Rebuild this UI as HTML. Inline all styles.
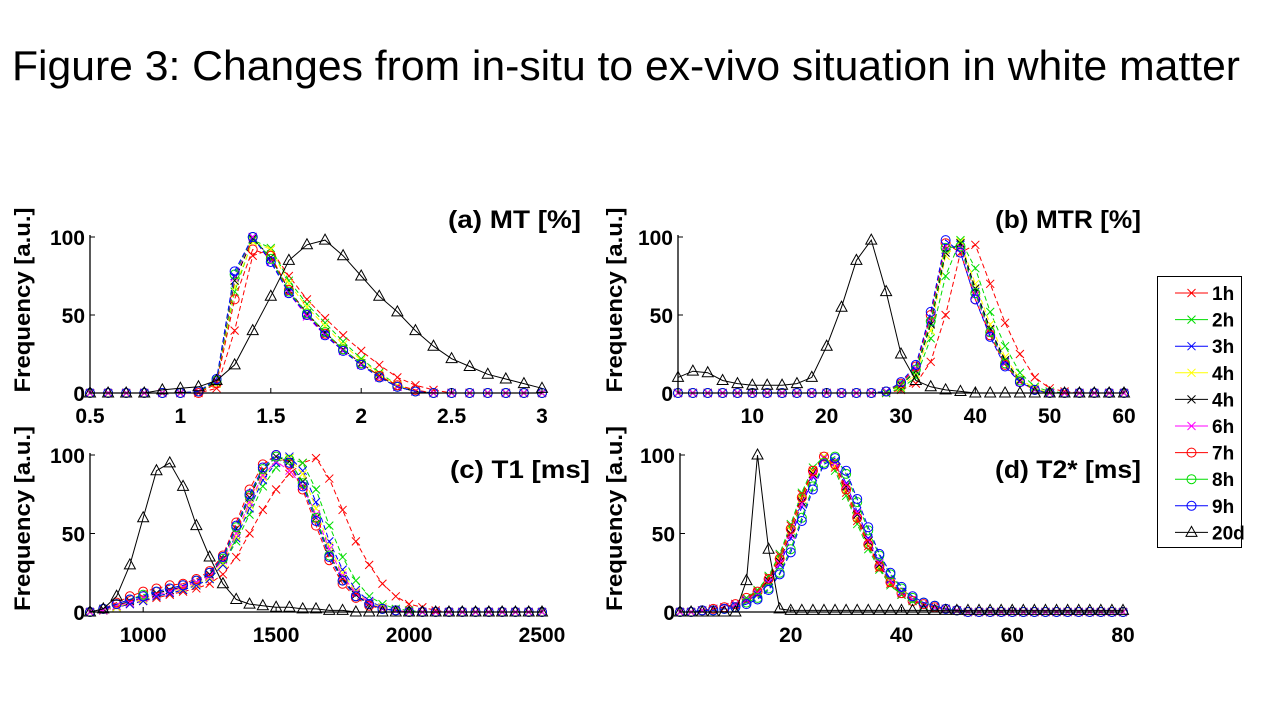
<!DOCTYPE html>
<html><head><meta charset="utf-8"><style>
body{margin:0;background:#fff;width:1280px;height:720px;overflow:hidden;font-family:"Liberation Sans",Arial,sans-serif}
svg text{font-family:"Liberation Sans",Arial,sans-serif}
</style></head><body>
<svg id="fig" width="1280" height="720" viewBox="0 0 1280 720" xmlns="http://www.w3.org/2000/svg">
<text x="12" y="80" font-size="42" textLength="1228" lengthAdjust="spacingAndGlyphs">Figure 3: Changes from in-situ to ex-vivo situation in white matter</text>
<g id="plots"></g>
<g id="legend"></g>
</svg>
<script>
// ---- data ----
const seriesNames=["1h","2h","3h","4h","4h","6h","7h","8h","9h","20d"];
const seriesColors=["#ff0000","#00dd00","#0000ff","#ffff00","#000000","#ff00ff","#ff0000","#00dd00","#0000ff","#000000"];
const seriesMarkers=["x","x","x","x","x","x","o","o","o","t"];

const aX=[0.5,0.6,0.7,0.8,0.9,1.0,1.1,1.2,1.3,1.4,1.5,1.6,1.7,1.8,1.9,2.0,2.1,2.2,2.3,2.4,2.5,2.6,2.7,2.8,2.9,3.0];
const aVals=[
[0,0,0,0,0,0,0,3,40,88,92,75,60,48,37,27,18,10,5,2,0,0,0,0,0,0],
[0,0,0,0,0,0,1,6,65,98,93,72,57,45,33,22,13,5,1,0,0,0,0,0,0,0],
[0,0,0,0,0,0,1,8,75,100,85,65,50,38,27,18,10,4,1,0,0,0,0,0,0,0],
[0,0,0,0,0,0,1,6,68,97,92,70,55,43,31,21,12,5,1,0,0,0,0,0,0,0],
[0,0,0,0,0,0,1,7,72,99,87,66,51,39,28,19,11,4,1,0,0,0,0,0,0,0],
[0,0,0,0,0,0,1,8,74,100,84,64,49,37,27,18,10,4,1,0,0,0,0,0,0,0],
[0,0,0,0,0,0,0,6,60,92,88,66,50,38,28,19,11,5,2,0,0,0,0,0,0,0],
[0,0,0,0,0,0,1,8,76,100,86,65,51,39,28,19,10,4,1,0,0,0,0,0,0,0],
[0,0,0,0,0,0,1,9,78,100,84,64,50,37,27,18,10,4,1,0,0,0,0,0,0,0],
[0,0,0,0,2,3,4,8,18,40,62,85,95,98,88,75,62,52,40,30,22,17,12,9,6,3]];
const aTicks=[0.5,1,1.5,2,2.5,3];
const aTickLabels=["0.5","1","1.5","2","2.5","3"];

const bX=[0,2,4,6,8,10,12,14,16,18,20,22,24,26,28,30,32,34,36,38,40,42,44,46,48,50,52,54,56,58,60];
const bVals=[
[0,0,0,0,0,0,0,0,0,0,0,0,0,0,0,2,6,20,50,90,95,70,45,25,10,3,1,0,0,0,0],
[0,0,0,0,0,0,0,0,0,0,0,0,0,0,0,3,10,35,75,98,80,52,30,13,4,1,0,0,0,0,0],
[0,0,0,0,0,0,0,0,0,0,0,0,0,0,1,5,15,45,92,95,65,40,20,8,2,0,0,0,0,0,0],
[0,0,0,0,0,0,0,0,0,0,0,0,0,0,1,4,12,40,88,97,70,44,23,9,3,0,0,0,0,0,0],
[0,0,0,0,0,0,0,0,0,0,0,0,0,0,1,5,14,44,90,96,67,41,21,8,2,0,0,0,0,0,0],
[0,0,0,0,0,0,0,0,0,0,0,0,0,0,1,6,16,48,94,93,63,38,19,7,2,0,0,0,0,0,0],
[0,0,0,0,0,0,0,0,0,0,0,0,0,0,1,6,17,50,96,90,60,37,18,7,2,0,0,0,0,0,0],
[0,0,0,0,0,0,0,0,0,0,0,0,0,0,1,5,15,46,93,94,64,39,19,8,2,0,0,0,0,0,0],
[0,0,0,0,0,0,0,0,0,0,0,0,0,0,1,7,18,52,98,90,60,36,17,7,2,0,0,0,0,0,0],
[10,14,13,8,6,5,5,5,6,10,30,55,85,98,65,25,8,4,2,1,0,0,0,0,0,0,0,0,0,0,0]];
const bTicks=[10,20,30,40,50,60];
const bTickLabels=["10","20","30","40","50","60"];

const cX=[800,850,900,950,1000,1050,1100,1150,1200,1250,1300,1350,1400,1450,1500,1550,1600,1650,1700,1750,1800,1850,1900,1950,2000,2050,2100,2150,2200,2250,2300,2350,2400,2450,2500];
const cVals=[
[0,1,3,5,7,9,11,13,15,18,24,35,50,65,78,88,95,98,85,65,45,30,18,10,5,3,1,0,0,0,0,0,0,0,0],
[0,1,3,6,8,10,12,14,17,21,30,45,62,80,92,98,95,78,55,35,20,10,5,2,1,0,0,0,0,0,0,0,0,0,0],
[0,1,3,5,7,10,12,14,17,21,30,47,66,84,95,99,90,70,45,27,14,7,3,1,0,0,0,0,0,0,0,0,0,0,0],
[0,1,3,6,8,11,13,15,18,22,31,48,68,86,96,98,88,66,42,25,13,6,3,1,0,0,0,0,0,0,0,0,0,0,0],
[0,2,4,7,9,12,14,16,19,24,34,53,73,90,99,96,83,60,37,21,11,5,2,1,0,0,0,0,0,0,0,0,0,0,0],
[0,1,4,6,9,11,13,16,19,23,33,50,70,87,96,90,80,62,40,23,12,6,2,1,0,0,0,0,0,0,0,0,0,0,0],
[0,2,6,10,13,15,17,18,21,26,36,57,78,94,100,94,78,55,33,18,9,4,2,1,0,0,0,0,0,0,0,0,0,0,0],
[0,2,5,8,11,13,15,17,20,25,34,54,74,91,99,97,82,60,36,20,10,5,2,1,0,0,0,0,0,0,0,0,0,0,0],
[0,2,5,8,10,13,15,17,20,25,35,55,75,92,100,95,80,58,35,20,10,5,2,1,0,0,0,0,0,0,0,0,0,0,0],
[0,2,10,30,60,90,95,80,55,35,18,8,5,4,3,3,2,2,1,1,0,0,0,0,0,0,0,0,0,0,0,0,0,0,0]];
const cTicks=[1000,1500,2000,2500];
const cTickLabels=["1000","1500","2000","2500"];

const dX=[0,2,4,6,8,10,12,14,16,18,20,22,24,26,28,30,32,34,36,38,40,42,44,46,48,50,52,54,56,58,60,62,64,66,68,70,72,74,76,78,80];
const dVals=[
[0,0,1,2,3,5,8,13,22,36,55,75,90,99,92,76,58,42,28,18,11,7,4,3,2,1,0,0,0,0,0,0,0,0,0,0,0,0,0,0,0],
[0,0,1,2,3,5,9,14,23,37,56,76,92,99,90,74,56,40,27,17,11,7,4,3,2,1,0,0,0,0,0,0,0,0,0,0,0,0,0,0,0],
[0,0,1,2,3,4,7,11,18,30,47,67,86,98,96,82,64,47,32,21,13,8,5,3,2,1,0,0,0,0,0,0,0,0,0,0,0,0,0,0,0],
[0,0,1,2,3,5,8,12,20,33,52,72,89,99,93,78,60,44,29,19,12,8,5,3,2,1,0,0,0,0,0,0,0,0,0,0,0,0,0,0,0],
[0,0,1,2,3,5,8,12,20,32,50,70,88,98,95,80,62,45,30,20,12,8,5,3,2,1,0,0,0,0,0,0,0,0,0,0,0,0,0,0,0],
[0,0,1,2,3,5,8,12,19,31,49,69,87,98,95,81,63,46,31,20,12,8,5,3,2,1,0,0,0,0,0,0,0,0,0,0,0,0,0,0,0],
[0,0,1,2,3,5,9,13,21,34,53,73,90,99,94,78,60,43,29,19,12,7,5,3,2,1,0,0,0,0,0,0,0,0,0,0,0,0,0,0,0],
[0,0,1,1,2,3,6,9,15,25,40,60,80,95,99,88,70,52,36,24,15,9,6,4,2,1,0,0,0,0,0,0,0,0,0,0,0,0,0,0,0],
[0,0,1,1,2,3,5,8,14,24,38,58,78,94,98,90,72,54,37,25,16,10,6,4,2,1,0,0,0,0,0,0,0,0,0,0,0,0,0,0,0],
[0,0,0,0,0,0,20,100,40,2,1,1,1,1,1,1,1,1,1,1,1,1,1,1,1,1,1,1,1,1,1,1,1,1,1,1,1,1,1,1,1]];
const dTicks=[20,40,60,80];
const dTickLabels=["20","40","60","80"];

const yTicks=[0,50,100];

// ---- drawing ----
const NS="http://www.w3.org/2000/svg";
const plots=document.getElementById('plots');
function mk(tag,attrs,parent){const e=document.createElementNS(NS,tag);for(const k in attrs)e.setAttribute(k,attrs[k]);parent.appendChild(e);return e;}
function marker(g,type,x,y,c){
  if(type==="x"){
    const p=mk('path',{d:`M${x-4},${y-4}L${x+4},${y+4}M${x-4},${y+4}L${x+4},${y-4}`,stroke:c,'stroke-width':1,fill:'none'},g);
    
    
  }else if(type==="o"){
    const p=mk('circle',{cx:x,cy:y,r:4.5,stroke:c,'stroke-width':1,fill:'none'},g);
    
    
  }else{
    const p=mk('path',{d:`M${x},${y-6}L${x+5.5},${y+4}L${x-5.5},${y+4}Z`,stroke:c,'stroke-width':1,fill:'none'},g);
    
    
  }
}
function panel(cfg){
  const g=mk('g',{},plots);
  
  
  const sx=v=>cfg.px0+(v-cfg.x0)/(cfg.x1-cfg.x0)*(cfg.px1-cfg.px0);
  const sy=v=>cfg.py0+(v/100)*(cfg.py100-cfg.py0);
  cfg.vals.forEach((vals,si)=>{
    const sg=mk('g',{},g);
    
    
    const pts=vals.map((v,i)=>sx(cfg.xs[i]).toFixed(1)+','+sy(v).toFixed(1)).join(' ');
    const pl=mk('polyline',{points:pts,fill:'none',stroke:seriesColors[si],'stroke-width':1,'stroke-dasharray':si<9?'5,3':'none'},sg);
    
    
    vals.forEach((v,i)=>marker(sg,seriesMarkers[si],sx(cfg.xs[i]),sy(v),seriesColors[si]));
  });
  const ax=mk('path',{d:`M${cfg.px0},${cfg.py100-2}V${cfg.py0}H${cfg.px1}`,stroke:'#000','stroke-width':1.3,fill:'none'},g);
  
  
  yTicks.forEach(t=>{
    const y=sy(t);
    mk('line',{x1:cfg.px0,x2:cfg.px0+5,y1:y,y2:y,stroke:'#000'},g);
    const tx=mk('text',{x:cfg.px0-5,y:y+8,'text-anchor':'end','font-size':21,'font-weight':'bold'},g);
    tx.textContent=t;
    
    
  });
  cfg.ticks.forEach((t,i)=>{
    const x=sx(t);
    mk('line',{x1:x,x2:x,y1:cfg.py0,y2:cfg.py0-5,stroke:'#000'},g);
    const tx=mk('text',{x:x,y:cfg.py0+30,'text-anchor':'middle','font-size':21,'font-weight':'bold'},g);
    tx.textContent=cfg.tickLabels[i];
    
    
  });
  const yl=mk('text',{x:0,y:0,transform:`translate(${cfg.ylx},${(cfg.py0+cfg.py100)/2-15}) rotate(-90)`,'text-anchor':'middle','font-size':22,'font-weight':'bold',textLength:185,lengthAdjust:'spacingAndGlyphs'},g);
  yl.textContent="Frequency [a.u.]";
  
  
  const tt=mk('text',{x:cfg.tx,y:cfg.ty,'text-anchor':'end','font-size':25,'font-weight':'bold',textLength:cfg.tw,lengthAdjust:'spacingAndGlyphs'},g);
  tt.textContent=cfg.title;
  
  
}
panel({name:'panel-a-mt',xs:aX,vals:aVals,x0:0.5,x1:3,px0:90,px1:542,py0:393,py100:237,ticks:aTicks,tickLabels:aTickLabels,ylx:30,title:"(a) MT [%]",tx:581,ty:228,tw:133});
panel({name:'panel-b-mtr',xs:bX,vals:bVals,x0:0,x1:60,px0:678,px1:1124,py0:393,py100:237,ticks:bTicks,tickLabels:bTickLabels,ylx:622,title:"(b) MTR [%]",tx:1141,ty:228,tw:146});
panel({name:'panel-c-t1',xs:cX,vals:cVals,x0:800,x1:2500,px0:90,px1:542,py0:612,py100:455,ticks:cTicks,tickLabels:cTickLabels,ylx:30,title:"(c) T1 [ms]",tx:590,ty:478,tw:140});
panel({name:'panel-d-t2star',xs:dX,vals:dVals,x0:0,x1:80,px0:680,px1:1123,py0:612,py100:455,ticks:dTicks,tickLabels:dTickLabels,ylx:622,title:"(d) T2* [ms]",tx:1141,ty:478,tw:146});

const lg=document.getElementById('legend');
mk('rect',{x:1157.5,y:276.5,width:84,height:271,fill:'#fff',stroke:'#000','stroke-width':1},lg);
seriesNames.forEach((n,i)=>{
  const y=293+i*26.6;
  const e=mk('g',{},lg);
  
  
  mk('line',{x1:1175,x2:1208,y1:y,y2:y,stroke:seriesColors[i],'stroke-width':1},e);
  marker(e,seriesMarkers[i],1191.5,y,seriesColors[i]);
  const t=mk('text',{x:1212,y:y+7,'font-size':19,'font-weight':'bold'},e);
  t.textContent=n;
});
</script>
</body></html>
